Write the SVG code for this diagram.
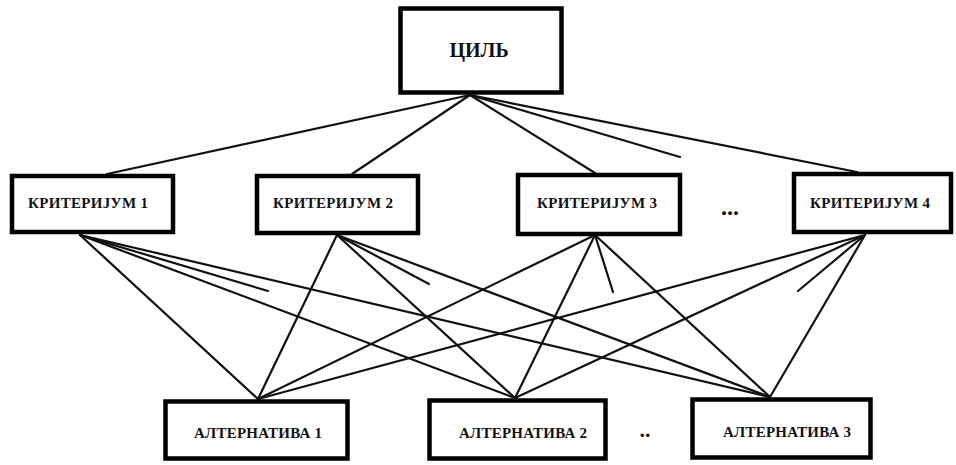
<svg xmlns="http://www.w3.org/2000/svg" width="956" height="465" viewBox="0 0 956 465">
<style>
.box{fill:#fff;stroke:#000;stroke-width:4.5}
.lbl{font-family:"Liberation Serif","Times New Roman",serif;font-weight:bold;fill:#111;text-anchor:middle;dominant-baseline:central}
.c line{stroke:#111;stroke-width:2.2;stroke-linecap:round}
</style>
<rect width="956" height="465" fill="#fff"/>
<g class="c" id="connectors">
<line x1="470" y1="95" x2="107" y2="174"/>
<line x1="470" y1="95" x2="352" y2="174"/>
<line x1="470" y1="95" x2="595" y2="173"/>
<line x1="470" y1="95" x2="680" y2="157"/>
<line x1="470" y1="95" x2="857" y2="172"/>
<line x1="80" y1="235" x2="258" y2="399"/>
<line x1="80" y1="235" x2="268" y2="291"/>
<line x1="80" y1="235" x2="515" y2="398"/>
<line x1="80" y1="235" x2="770" y2="397"/>
<line x1="337" y1="235" x2="258" y2="399"/>
<line x1="337" y1="235" x2="429" y2="284"/>
<line x1="337" y1="235" x2="515" y2="398"/>
<line x1="337" y1="235" x2="770" y2="397"/>
<line x1="595" y1="235" x2="258" y2="399"/>
<line x1="595" y1="235" x2="613" y2="292"/>
<line x1="595" y1="235" x2="515" y2="398"/>
<line x1="595" y1="235" x2="770" y2="397"/>
<line x1="865" y1="235" x2="258" y2="399"/>
<line x1="865" y1="235" x2="798" y2="291"/>
<line x1="865" y1="235" x2="515" y2="398"/>
<line x1="865" y1="235" x2="770" y2="397"/>
</g>
<g id="goal"><rect class="box" x="400.5" y="8.5" width="161" height="84" stroke-width="5"/><text class="lbl" x="479" y="50" font-size="20">ЦИЛЬ</text></g>
<g id="k1"><rect class="box" x="12" y="176" width="161" height="56" stroke-width="4"/><text class="lbl" x="88" y="203" font-size="15" textLength="120">КРИТЕРИЈУМ 1</text></g>
<g id="k2"><rect class="box" x="257" y="176" width="161" height="57" stroke-width="4"/><text class="lbl" x="333" y="203" font-size="15" textLength="120">КРИТЕРИЈУМ 2</text></g>
<g id="k3"><rect class="box" x="518" y="175" width="162" height="59" stroke-width="4"/><text class="lbl" x="597" y="203" font-size="15" textLength="120">КРИТЕРИЈУМ 3</text></g>
<g id="k4"><rect class="box" x="794" y="174" width="157" height="58" stroke-width="4"/><text class="lbl" x="870" y="203" font-size="15" textLength="120">КРИТЕРИЈУМ 4</text></g>
<g id="a1"><rect class="box" x="165.5" y="401.5" width="182" height="57" stroke-width="5"/><text class="lbl" x="258" y="433" font-size="15" textLength="128">АЛТЕРНАТИВА 1</text></g>
<g id="a2"><rect class="box" x="429.5" y="400.5" width="176" height="58" stroke-width="5"/><text class="lbl" x="523" y="433" font-size="15" textLength="128">АЛТЕРНАТИВА 2</text></g>
<g id="a3"><rect class="box" x="692.5" y="399.5" width="178" height="58" stroke-width="5"/><text class="lbl" x="787" y="432" font-size="15" textLength="128">АЛТЕРНАТИВА 3</text></g>
<text class="lbl" x="730" y="207" font-size="24">...</text>
<text class="lbl" x="645" y="429" font-size="22">..</text>
</svg>
